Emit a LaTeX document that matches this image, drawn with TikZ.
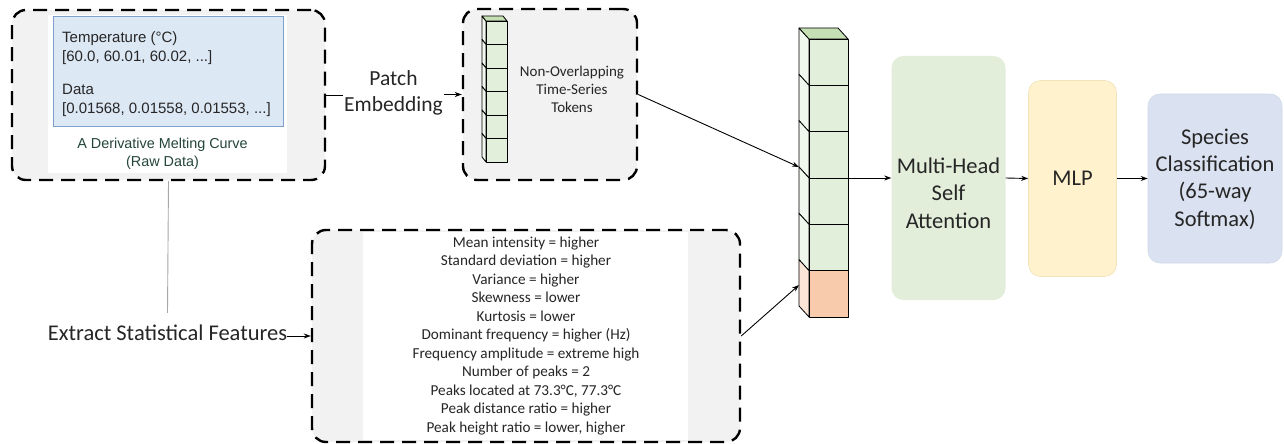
\documentclass[tikz,border=0pt]{standalone}
\usepackage{fontspec}
\setmainfont{Carlito}
\newfontfamily\arialfont{Liberation Sans}
\usetikzlibrary{arrows.meta}

\definecolor{panelgray}{HTML}{F2F2F2}
\definecolor{rawfill}{HTML}{DDE8F5}
\definecolor{rawedge}{HTML}{7F9FCC}
\definecolor{captiongreen}{HTML}{24453A}
\definecolor{inktext}{HTML}{262626}
\definecolor{cubefront}{HTML}{E2EFDA}
\definecolor{cubeside}{HTML}{F0F7EC}
\definecolor{cubetop}{HTML}{C5E0B4}
\definecolor{clsfront}{HTML}{F8CBAD}
\definecolor{clsside}{HTML}{FBE5D6}
\definecolor{attnfill}{HTML}{E2EDDA}
\definecolor{mlpfill}{HTML}{FFF2CC}
\definecolor{mlpedge}{HTML}{EFE3B8}
\definecolor{outfill}{HTML}{DAE1F0}
\definecolor{outedge}{HTML}{D0D8EA}

\begin{document}
\begin{tikzpicture}[x=1pt,y=-1pt,
  dashbox/.style={draw=black, line width=2.4pt, dash pattern=on 14pt off 8pt,
    rounded corners=14pt, fill=panelgray, inner sep=0pt},
  conn/.style={line width=0.9pt, -{Stealth[length=7pt,width=5pt]}},
  plainline/.style={line width=0.9pt},
  stagebox/.style={rounded corners=12pt, inner sep=0pt},
  bigtext/.style={font=\fontsize{22.5}{27.5}\selectfont, align=center, text=inktext, inner sep=0pt},
  cell/.style={draw=black, line width=0.8pt, line join=round},
]
\useasboundingbox (0,0) rectangle (1284,444);

% ---------- raw data panel ----------
\node[dashbox, minimum width=313pt, minimum height=170pt] (boxA) at (168.5,95) {};
\fill[white] (48,15) rectangle (287,173);
\node[draw=rawedge, fill=rawfill, line width=1pt, minimum width=230pt, minimum height=109pt, inner sep=0pt] (raw) at (168,71.5) {};
\begin{scope}[every node/.style={anchor=base west, inner sep=0pt, text=inktext, font=\arialfont\fontsize{15}{18}\selectfont}]
  \node (t1) at (62,42) {Temperature (°C)};
  \node (t2) at (62,61) {[60.0, 60.01, 60.02, ...]};
  \node (t3) at (62,94) {Data};
  \node (t4) at (62,113) {[0.01568, 0.01558, 0.01553, ...]};
\end{scope}
\begin{scope}[every node/.style={anchor=base, inner sep=0pt, text=captiongreen, font=\arialfont\fontsize{14.4}{17}\selectfont}]
  \node (c1) at (162.5,148) {A Derivative Melting Curve};
  \node (c2) at (162.5,166) {(Raw Data)};
\end{scope}

% ---------- patch embedding ----------
\node[font=\fontsize{21.5}{26}\selectfont, align=center, text=inktext, inner sep=1pt] (patch) at (393.5,93) {Patch\\Embedding};

% ---------- token panel ----------
\node[dashbox, minimum width=174pt, minimum height=171pt] (boxB) at (550,94.5) {};
% small token stack: front face x 486..507, cells from y 21 to 162, depth (-4,-5)
\foreach \i in {0,...,5}{
  \pgfmathsetmacro{\ya}{21+\i*23.5}
  \pgfmathsetmacro{\yb}{21+(\i+1)*23.5}
  \filldraw[cell, fill=cubeside] (486,\ya) -- (482,\ya-5) -- (482,\yb-5) -- (486,\yb) -- cycle;
  \filldraw[cell, fill=cubefront] (486,\ya) rectangle (507,\yb);
}
\filldraw[cell, fill=cubetop] (486,21) -- (482,16) -- (503,16) -- (507,21) -- cycle;
\node[font=\fontsize{15}{18}\selectfont, align=center, text=inktext, inner sep=0pt] (toktext) at (572,89) {Non-Overlapping\\Time-Series\\Tokens};

% ---------- statistical features ----------
\node[font=\fontsize{22.5}{27}\selectfont, text=inktext, inner sep=0pt, minimum height=40pt] (extract) at (167.5,333) {Extract Statistical Features};
\node[dashbox, minimum width=428pt, minimum height=212pt] (boxF) at (526,336) {};
\fill[white] (363,232) rectangle (688,440);
\node[font=\fontsize{15.2}{18.5}\selectfont, align=center, text=inktext, inner sep=0pt] (feats) at (526,336) {%
Mean intensity = higher\\
Standard deviation = higher\\
Variance = higher\\
Skewness = lower\\
Kurtosis = lower\\
Dominant frequency = higher (Hz)\\
Frequency amplitude = extreme high\\
Number of peaks = 2\\
Peaks located at 73.3°C, 77.3°C\\
Peak distance ratio = higher\\
Peak height ratio = lower, higher};

% ---------- token sequence with class token ----------
% front face x 809..848, six cells from y 39 to 317, depth (-10,-11)
\foreach \i in {0,...,5}{
  \pgfmathsetmacro{\ya}{39+\i*46.333}
  \pgfmathsetmacro{\yb}{39+(\i+1)*46.333}
  \ifnum\i=5
    \filldraw[cell, fill=clsside] (809,\ya) -- (799,\ya-11) -- (799,\yb-11) -- (809,\yb) -- cycle;
    \filldraw[cell, fill=clsfront] (809,\ya) rectangle (848,\yb);
  \else
    \filldraw[cell, fill=cubeside] (809,\ya) -- (799,\ya-11) -- (799,\yb-11) -- (809,\yb) -- cycle;
    \filldraw[cell, fill=cubefront] (809,\ya) rectangle (848,\yb);
  \fi
}
\filldraw[cell, fill=cubetop] (809,39) -- (799,28) -- (838,28) -- (848,39) -- cycle;
\node[minimum width=39pt, minimum height=278pt, inner sep=0pt] (stack) at (828.5,178) {};
\coordinate (tokin) at (799,167);
\coordinate (featin) at (799,285);

% ---------- transformer stages ----------
\node[stagebox, fill=attnfill, minimum width=114pt, minimum height=244pt] (mhsa) at (948.5,178) {};
\node[bigtext] (mhsatext) at (948.5,193) {Multi-Head\\Self\\Attention};
\node[stagebox, fill=mlpfill, draw=mlpedge, line width=0.6pt, minimum width=88pt, minimum height=196pt] (mlp) at (1072.5,178.5) {};
\node[bigtext] (mlptext) at (1072.5,178) {MLP};
\node[stagebox, fill=outfill, draw=outedge, line width=0.6pt, minimum width=134pt, minimum height=169pt] (out) at (1215,178.5) {};
\node[bigtext, font=\fontsize{22.5}{27.3}\selectfont] (outtext) at (1215,179) {Species\\Classification\\(65-way\\Softmax)};

% ---------- connectors ----------
\draw[plainline] (boxA.east) -- (patch.west |- boxA.east);
\draw[conn] (patch.east |- boxB.west) -- (boxB.west);
\draw[line width=0.9pt, draw=gray!70] (boxA.south) -- (extract.north);
\draw[conn] (extract.east |- boxF.west) -- (boxF.west);
\draw[conn] (boxB.east) -- (tokin);
\draw[conn] (boxF.east) -- (featin);
\draw[conn] (stack.east) -- (mhsa.west);
\draw[conn] (mhsa.east) -- (mlp.west);
\draw[conn] (mlp.east) -- (out.west);
\end{tikzpicture}
\end{document}
